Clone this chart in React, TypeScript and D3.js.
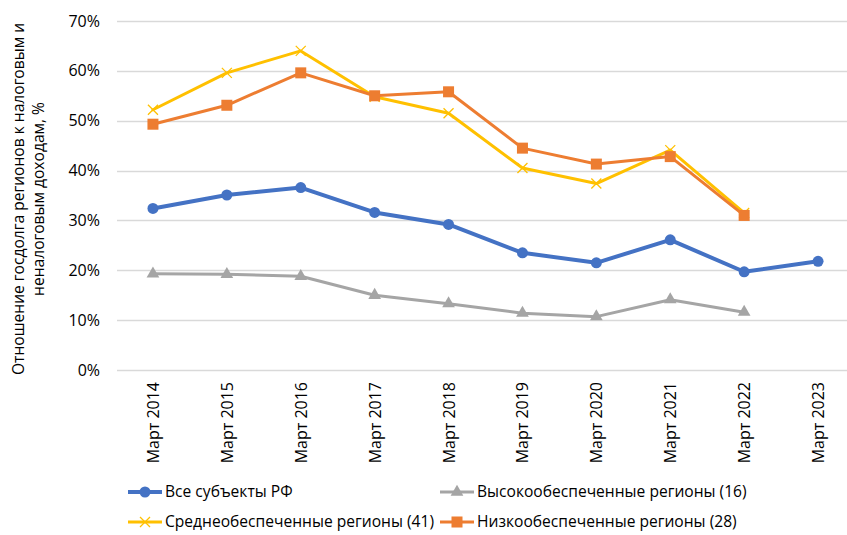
import React, { useEffect, useRef } from 'react';
import * as d3 from 'd3';

// data
const years = ['Март 2014', 'Март 2015', 'Март 2016', 'Март 2017', 'Март 2018', 'Март 2019', 'Март 2020', 'Март 2021', 'Март 2022', 'Март 2023'];
const allRegions = [0.324, 0.351, 0.366, 0.316, 0.292, 0.235, 0.215, 0.261, 0.197, 0.218];
const highRegions = [0.193, 0.192, 0.188, 0.150, 0.133, 0.114, 0.107, 0.141, 0.116];
const midRegions = [0.522, 0.596, 0.640, 0.548, 0.515, 0.405, 0.374, 0.441, 0.315];
const lowRegions = [0.493, 0.531, 0.596, 0.550, 0.558, 0.445, 0.413, 0.428, 0.310];
const yTicks = [0, 0.1, 0.2, 0.3, 0.4, 0.5, 0.6, 0.7];

const FONT = '"Open Sans", sans-serif';

export default function App() {
  const svgRef = useRef<SVGSVGElement>(null);

  useEffect(() => {
    const root = d3.select(svgRef.current);
    root.selectAll('*').remove();

    const x = d3.scalePoint<string>()
      .domain(years)
      .range([116, 855])
      .padding(0.5);

    const y = d3.scaleLinear()
      .domain([0, 0.7])
      .range([370, 21]);

    // gridlines
    root.append('g')
      .selectAll('line')
      .data(yTicks)
      .enter()
      .append('line')
      .attr('x1', 117)
      .attr('x2', 847)
      .attr('y1', (d) => Math.round(y(d)) + 0.5)
      .attr('y2', (d) => Math.round(y(d)) + 0.5)
      .attr('stroke', '#d9d9d9')
      .attr('stroke-width', 1.5);

    // y tick labels
    root.append('g')
      .selectAll('text')
      .data(yTicks)
      .enter()
      .append('text')
      .attr('x', 100)
      .attr('y', (d) => y(d))
      .attr('dy', '0.35em')
      .attr('text-anchor', 'end')
      .attr('font-family', FONT)
      .attr('font-size', '16px')
      .attr('fill', '#000')
      .text((d) => d3.format('.0%')(d));

    // x tick labels (rotated)
    root.append('g')
      .selectAll('text')
      .data(years)
      .enter()
      .append('text')
      .attr('transform', (d) => `translate(${x(d)! + 6},382) rotate(-90)`)
      .attr('text-anchor', 'end')
      .attr('font-family', FONT)
      .attr('font-size', '16px')
      .attr('fill', '#000')
      .text((d) => d);

    // y axis title
    const title = root.append('text')
      .attr('transform', 'translate(0,199) rotate(-90)')
      .attr('text-anchor', 'middle')
      .attr('font-family', FONT)
      .attr('font-size', '15.6px')
      .attr('fill', '#000');
    title.append('tspan').attr('x', 0).attr('y', 24).text('Отношение госдолга регионов к налоговым и');
    title.append('tspan').attr('x', 0).attr('y', 44).text('неналоговым доходам, %');

    const series = [
      { name: 'Все субъекты РФ', values: allRegions, color: '#4472c4', width: 4, marker: 'circle' },
      { name: 'Высокообеспеченные регионы (16)', values: highRegions, color: '#a5a5a5', width: 3, marker: 'triangle' },
      { name: 'Среднеобеспеченные регионы (41)', values: midRegions, color: '#ffc000', width: 3, marker: 'cross' },
      { name: 'Низкообеспеченные регионы (28)', values: lowRegions, color: '#ed7d31', width: 3, marker: 'square' },
    ];

    const drawMarker = (g: any, kind: string, color: string) => {
      if (kind === 'circle') {
        g.append('circle').attr('r', 5.5).attr('fill', color);
      } else if (kind === 'square') {
        g.append('rect').attr('x', -5.5).attr('y', -5.5).attr('width', 11).attr('height', 11).attr('fill', color);
      } else if (kind === 'triangle') {
        g.append('path').attr('d', d3.symbol(d3.symbolTriangle, 70)()).attr('fill', color);
      } else {
        g.append('path').attr('d', 'M-5,-5L5,5M-5,5L5,-5').attr('stroke', color).attr('stroke-width', 1.3).attr('fill', 'none');
      }
    };

    const line = d3.line<number>()
      .x((d, i) => x(years[i])!)
      .y((d) => y(d));

    series.forEach((s) => {
      const g = root.append('g');
      g.append('path')
        .attr('d', line(s.values))
        .attr('fill', 'none')
        .attr('stroke', s.color)
        .attr('stroke-width', s.width)
        .attr('stroke-linejoin', 'round')
        .attr('stroke-linecap', 'round');
      s.values.forEach((v, i) => {
        const m = g.append('g').attr('transform', `translate(${x(years[i])},${y(v)})`);
        drawMarker(m, s.marker, s.color);
      });
    });

    // legend
    const legendPos = [
      { x: 128, y: 492 },
      { x: 440, y: 492 },
      { x: 128, y: 522 },
      { x: 440, y: 522 },
    ];
    series.forEach((s, i) => {
      const p = legendPos[i];
      const g = root.append('g').attr('transform', `translate(${p.x},${p.y})`);
      g.append('line')
        .attr('x1', 0)
        .attr('x2', 34)
        .attr('stroke', s.color)
        .attr('stroke-width', s.width);
      const m = g.append('g').attr('transform', 'translate(17,0)');
      drawMarker(m, s.marker, s.color);
      g.append('text')
        .attr('x', 37)
        .attr('dy', '0.35em')
        .attr('font-family', FONT)
        .attr('font-size', '15.6px')
        .attr('fill', '#000')
        .text(s.name);
    });
  }, []);

  return (
    <div style={{ position: 'absolute', left: 0, top: 0 }}>
      <svg ref={svgRef} width={847} height={535} style={{ display: 'block', background: '#fff' }} />
    </div>
  );
}
